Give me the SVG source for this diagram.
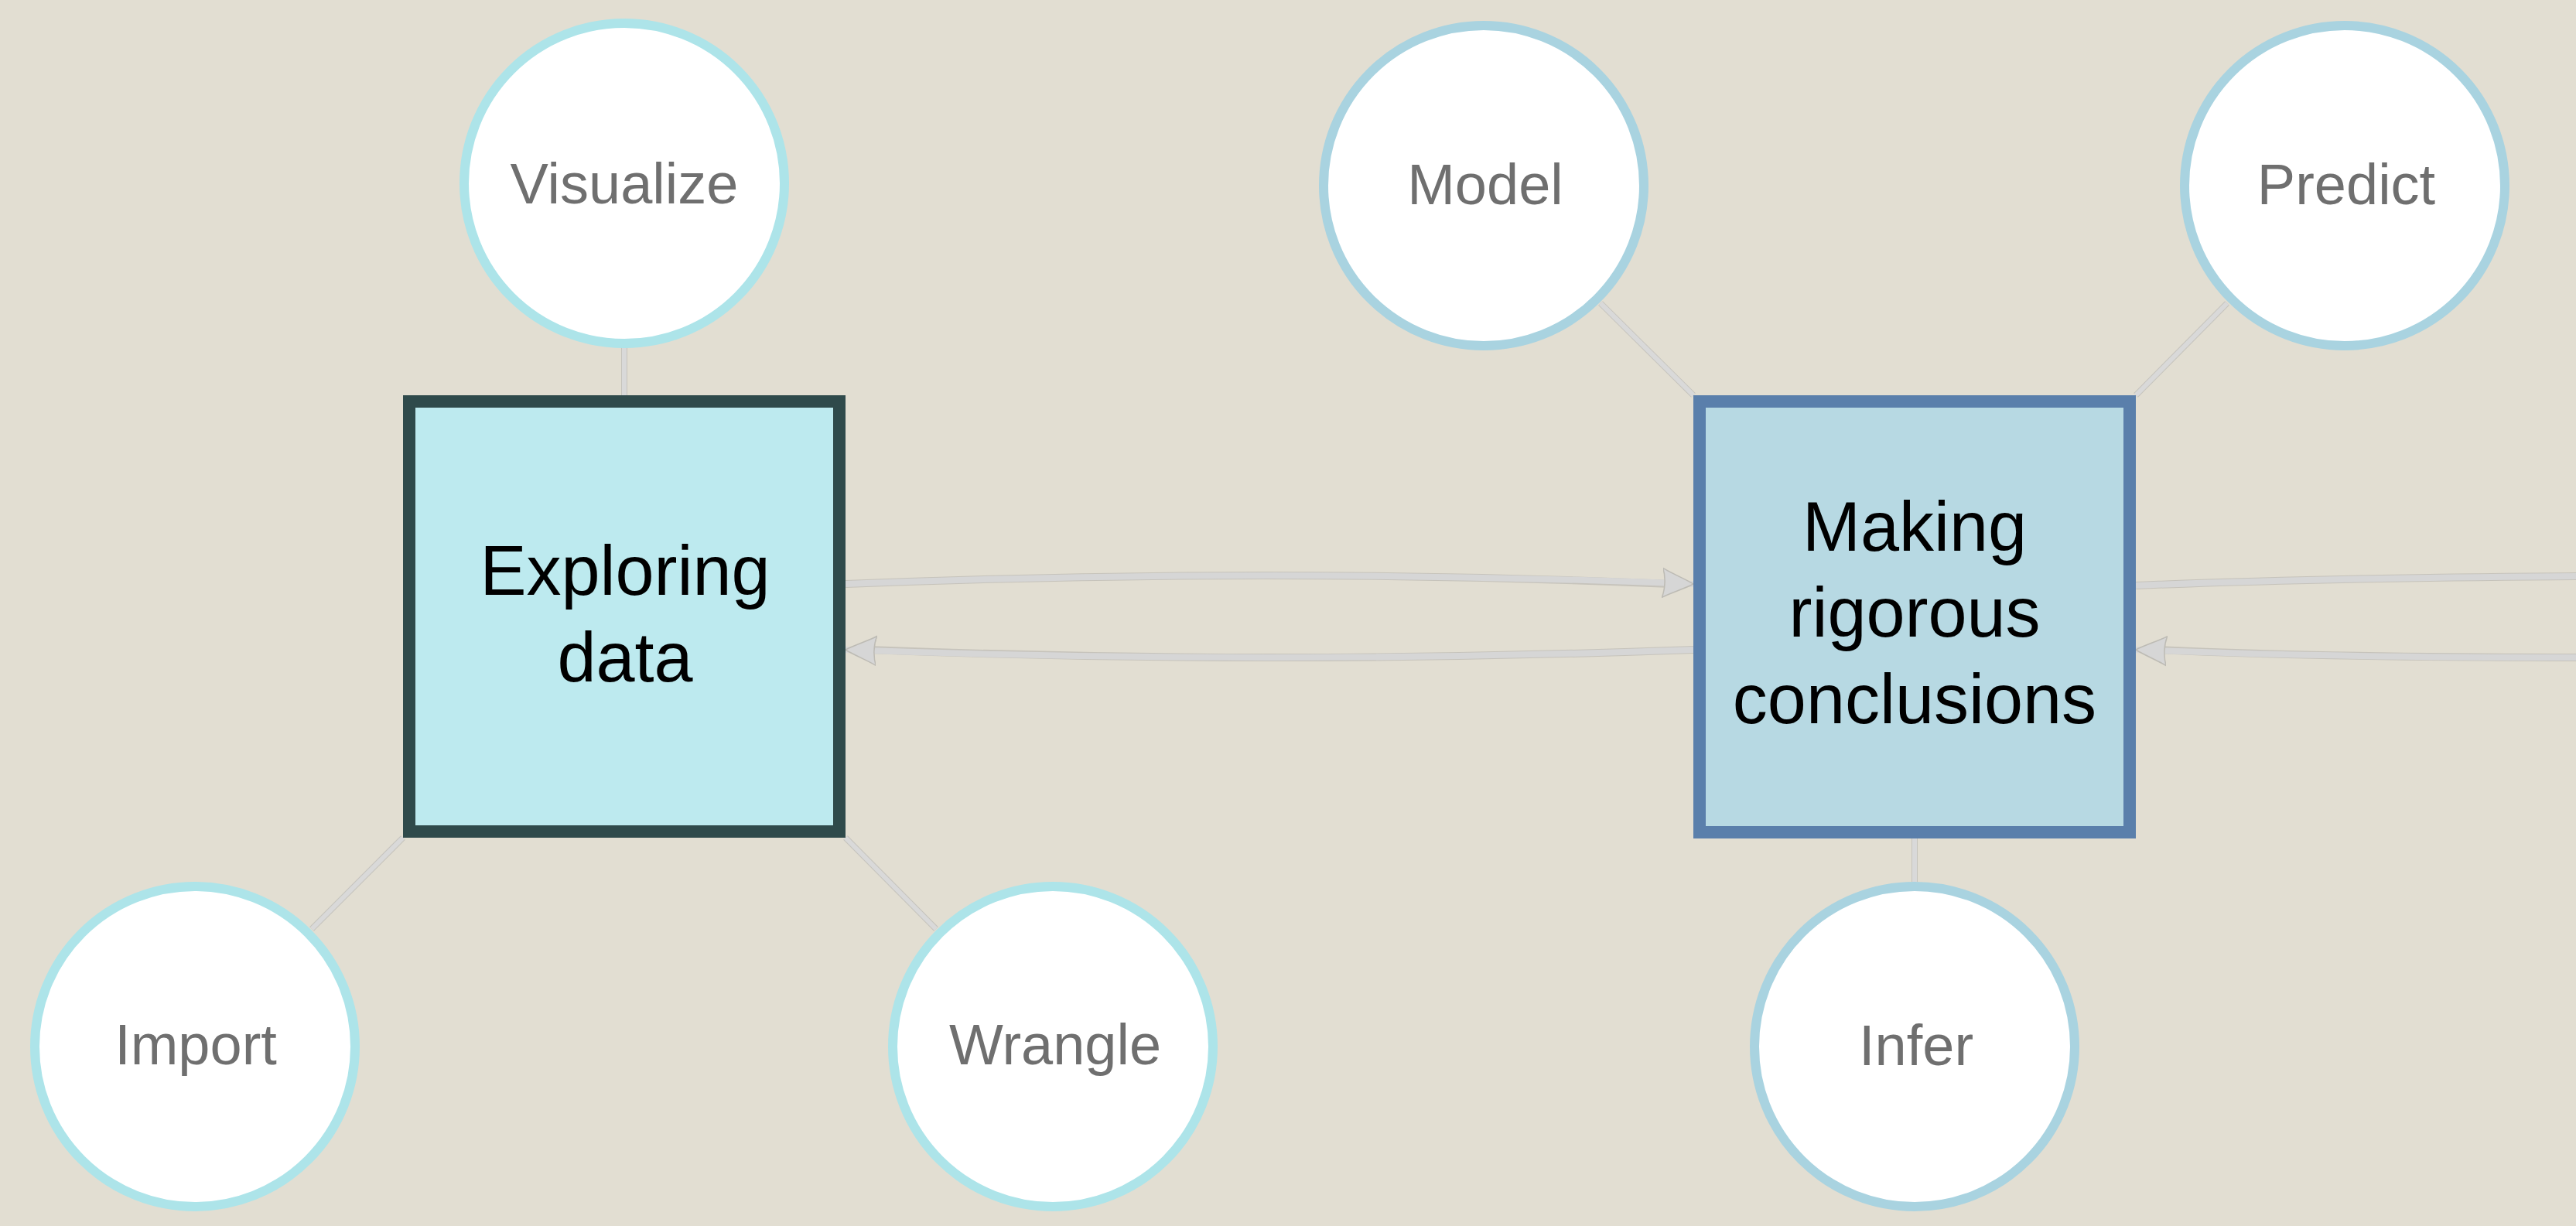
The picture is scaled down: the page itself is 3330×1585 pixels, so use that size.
<svg xmlns="http://www.w3.org/2000/svg" width="3330" height="1585" viewBox="0 0 3330 1585">
<style>
.bg{fill:#e2ded2}
.case{fill:none;stroke:#c6c3bb;stroke-width:10;stroke-linecap:butt}
.wire{fill:none;stroke:#d6d6d6;stroke-width:8;stroke-linecap:butt}
.thin-case{fill:none;stroke:#c6c4bd;stroke-width:8}
.thin{fill:none;stroke:#d9d9d9;stroke-width:6}
.c1{fill:#ffffff;stroke:#ade4e9;stroke-width:12}
.c2{fill:#ffffff;stroke:#a9d3e0;stroke-width:12}
.ctext{font-family:"Liberation Sans",Arial,sans-serif;font-size:74px;fill:#6f6f6f;text-anchor:middle}
.btext{font-family:"Liberation Sans",Arial,sans-serif;font-size:90px;fill:#000000;text-anchor:middle}
.box1{fill:#bdeaef;stroke:#2f4a4b;stroke-width:16}
.box2{fill:#b7d9e3;stroke:#5a7fab;stroke-width:16}
</style>
<defs>
<marker id="arrow" markerUnits="userSpaceOnUse" viewBox="0 0 40 40" markerWidth="40" markerHeight="40" refX="40" refY="20" orient="auto">
<path d="M0,1 C8,6 30,14 40,20 C30,26 8,34 0,39 C4,28 4,12 0,1 Z" fill="#d6d6d6" stroke="#bdbbb4" stroke-width="1.5"/>
</marker>
</defs>
<rect class="bg" x="0" y="0" width="3330" height="1585"/>
<g id="connectors">
<line class="thin-case" x1="807" y1="448" x2="807" y2="512"/>
<line class="thin" x1="807" y1="448" x2="807" y2="512"/>
<line class="thin-case" x1="521" y1="1083" x2="403" y2="1201"/>
<line class="thin" x1="521" y1="1083" x2="403" y2="1201"/>
<line class="thin-case" x1="1093" y1="1083" x2="1210" y2="1201"/>
<line class="thin" x1="1093" y1="1083" x2="1210" y2="1201"/>
<line class="thin-case" x1="2189" y1="511" x2="2069" y2="392"/>
<line class="thin" x1="2189" y1="511" x2="2069" y2="392"/>
<line class="thin-case" x1="2761" y1="511" x2="2879" y2="392"/>
<line class="thin" x1="2761" y1="511" x2="2879" y2="392"/>
<line class="thin-case" x1="2475" y1="1084" x2="2475" y2="1140"/>
<line class="thin" x1="2475" y1="1084" x2="2475" y2="1140"/>
<path class="case" d="M1093,755 Q1641,733 2160,755"/>
<path class="wire" d="M1093,755 Q1641,733 2189,755" marker-end="url(#arrow)"/>
<path class="case" d="M2189,840 Q1641,860 1122,840"/>
<path class="wire" d="M2189,840 Q1641,860 1093,840" marker-end="url(#arrow)"/>
<path class="case" d="M2761,757 Q3000,747 3330,745"/>
<path class="wire" d="M2761,757 Q3000,747 3330,745"/>
<path class="case" d="M3330,850 Q3000,850 2790,840"/>
<path class="wire" d="M3330,850 Q3000,850 2761,840" marker-end="url(#arrow)"/>
</g>
<g id="exploring">
<rect class="box1" x="529" y="519" width="556" height="556"/>
<text class="btext" x="808" y="769">Exploring</text>
<text class="btext" x="808" y="881">data</text>
</g>
<g id="making">
<rect class="box2" x="2197" y="519" width="556" height="557"/>
<text class="btext" x="2475" y="712">Making</text>
<text class="btext" x="2475" y="823">rigorous</text>
<text class="btext" x="2475" y="935">conclusions</text>
</g>
<g id="visualize">
<circle class="c1" cx="807" cy="237" r="207"/>
<text class="ctext" x="807" y="263">Visualize</text>
</g>
<g id="import">
<circle class="c1" cx="252" cy="1353" r="207"/>
<text class="ctext" x="253" y="1376">Import</text>
</g>
<g id="wrangle">
<circle class="c1" cx="1361" cy="1353" r="207"/>
<text class="ctext" x="1364" y="1376">Wrangle</text>
</g>
<g id="model">
<circle class="c2" cx="1918" cy="240" r="207"/>
<text class="ctext" x="1920" y="264">Model</text>
</g>
<g id="predict">
<circle class="c2" cx="3031" cy="240" r="207"/>
<text class="ctext" x="3033" y="264">Predict</text>
</g>
<g id="infer">
<circle class="c2" cx="2475" cy="1353" r="207"/>
<text class="ctext" x="2477" y="1377">Infer</text>
</g>
</svg>
